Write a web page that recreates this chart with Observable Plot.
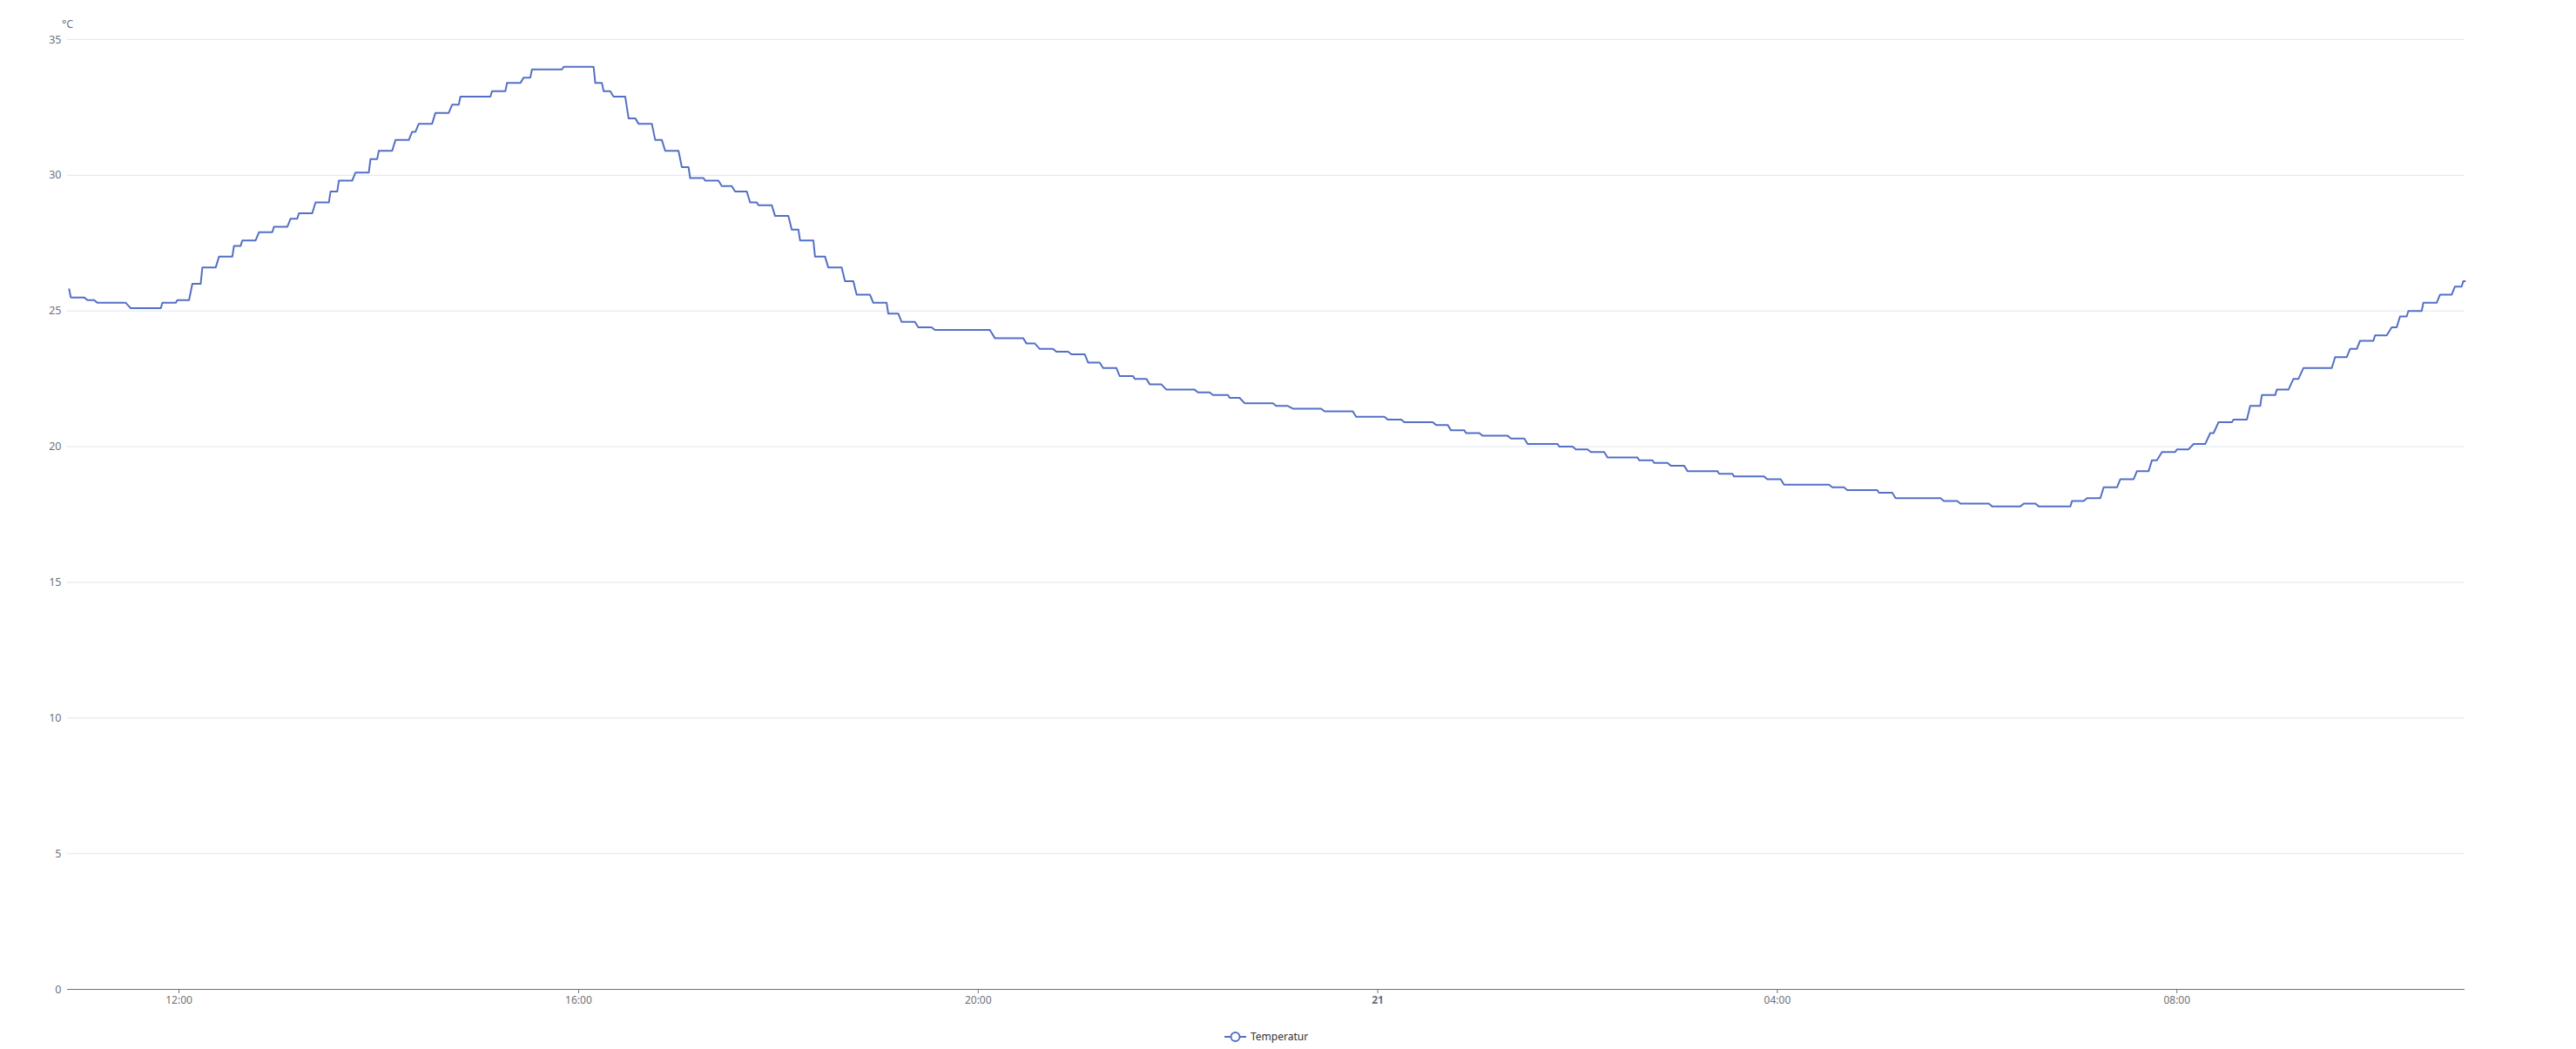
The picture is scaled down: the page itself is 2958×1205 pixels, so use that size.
<!DOCTYPE html>
<html>
<head>
<meta charset="utf-8">
<script src="https://cdn.jsdelivr.net/npm/d3@7"></script>
<script src="https://cdn.jsdelivr.net/npm/@observablehq/plot@0.6"></script>
<style>
  html, body { margin: 0; padding: 0; background: #fff; }
  #wrap { position: relative; width: 2958px; height: 1205px; font-family: "Noto Sans", sans-serif; }
  #legend { position: absolute; left: 1406px; top: 1182px; display: flex; align-items: center; font-size: 12px; color: #333; }
  #legend svg { margin-right: 5px; }
</style>
</head>
<body>
<div id="wrap">
  <div id="chart"></div>
  <div id="legend">
    <svg width="25" height="14"><line x1="0" x2="25" y1="7" y2="7" stroke="#5470c6" stroke-width="2"/><circle cx="12.5" cy="7" r="5" fill="#fff" stroke="#5470c6" stroke-width="2"/></svg>
    <span id="legendLabel"></span>
  </div>
</div>
<script>
// Series name and units
const seriesName = "Temperatur";
const unitLabel = "°C";

// Axis extents and ticks
const timeRange = ["20 10:53", "21 10:53"];
const yTicks = [0, 5, 10, 15, 20, 25, 30, 35];

// Plateaus of the stepped temperature reading: start time, end time ("day HH:MM"), value (°C)
const starts = [
  "20 10:54","20 10:55","20 11:05","20 11:11","20 11:31","20 11:50","20 11:59","20 12:08","20 12:14","20 12:24",
  "20 12:33","20 12:38","20 12:48","20 12:57","20 13:07","20 13:12","20 13:22","20 13:31","20 13:36","20 13:46",
  "20 13:55","20 14:00","20 14:10","20 14:20","20 14:24","20 14:34","20 14:44","20 14:49","20 15:08","20 15:17",
  "20 15:27","20 15:32","20 15:51","20 16:10","20 16:15","20 16:21","20 16:30","20 16:36","20 16:46","20 16:52",
  "20 17:02","20 17:07","20 17:16","20 17:26","20 17:34","20 17:43","20 17:48","20 17:58","20 18:08","20 18:13",
  "20 18:22","20 18:30","20 18:40","20 18:47","20 18:57","20 19:06","20 19:14","20 19:24","20 19:34","20 20:10",
  "20 20:29","20 20:37","20 20:47","20 20:56","20 21:06","20 21:15","20 21:25","20 21:34","20 21:43","20 21:53",
  "20 22:12","20 22:21","20 22:31","20 22:40","20 22:59","20 23:09","20 23:28","20 23:47","21 00:06","21 00:16",
  "21 00:35","21 00:44","21 00:53","21 01:03","21 01:20","21 01:30","21 01:49","21 01:59","21 02:08","21 02:18",
  "21 02:37","21 02:46","21 02:56","21 03:06","21 03:25","21 03:34","21 03:54","21 04:04","21 04:33","21 04:42",
  "21 05:01","21 05:11","21 05:40","21 05:50","21 06:09","21 06:28","21 06:37","21 06:57","21 07:06","21 07:16",
  "21 07:26","21 07:36","21 07:45","21 07:51","21 08:00","21 08:10","21 08:20","21 08:25","21 08:34","21 08:44",
  "21 08:51","21 09:00","21 09:10","21 09:16","21 09:35","21 09:44","21 09:50","21 09:59","21 10:09","21 10:14",
  "21 10:19","21 10:28","21 10:38","21 10:47","21 10:52"
];
const ends = [
  "20 10:54","20 11:03","20 11:09","20 11:28","20 11:49","20 11:58","20 12:06","20 12:13","20 12:22","20 12:32",
  "20 12:37","20 12:46","20 12:56","20 13:05","20 13:11","20 13:20","20 13:30","20 13:35","20 13:44","20 13:54",
  "20 13:59","20 14:08","20 14:18","20 14:22","20 14:32","20 14:42","20 14:48","20 15:07","20 15:16","20 15:25",
  "20 15:31","20 15:50","20 16:09","20 16:14","20 16:19","20 16:28","20 16:34","20 16:44","20 16:50","20 17:00",
  "20 17:06","20 17:15","20 17:24","20 17:32","20 17:41","20 17:47","20 17:56","20 18:06","20 18:12","20 18:21",
  "20 18:28","20 18:38","20 18:45","20 18:55","20 19:05","20 19:12","20 19:22","20 19:32","20 20:07","20 20:27",
  "20 20:34","20 20:45","20 20:54","20 21:04","20 21:13","20 21:23","20 21:33","20 21:41","20 21:50","20 22:10",
  "20 22:19","20 22:30","20 22:37","20 22:57","20 23:06","20 23:26","20 23:45","21 00:04","21 00:14","21 00:33",
  "21 00:42","21 00:52","21 01:01","21 01:18","21 01:28","21 01:48","21 01:57","21 02:06","21 02:16","21 02:36",
  "21 02:45","21 02:54","21 03:04","21 03:24","21 03:33","21 03:52","21 04:02","21 04:31","21 04:40","21 05:00",
  "21 05:09","21 05:38","21 05:48","21 06:07","21 06:26","21 06:35","21 06:56","21 07:04","21 07:14","21 07:24",
  "21 07:34","21 07:43","21 07:48","21 07:59","21 08:07","21 08:17","21 08:22","21 08:33","21 08:42","21 08:50",
  "21 08:59","21 09:07","21 09:13","21 09:33","21 09:42","21 09:48","21 09:58","21 10:06","21 10:12","21 10:18",
  "21 10:27","21 10:36","21 10:45","21 10:51","21 10:53"
];
const temps = [
  25.8,25.5,25.4,25.3,25.1,25.3,25.4,26.0,26.6,27.0,
  27.4,27.6,27.9,28.1,28.4,28.6,29.0,29.4,29.8,30.1,
  30.6,30.9,31.3,31.6,31.9,32.3,32.6,32.9,33.1,33.4,
  33.6,33.9,34.0,33.4,33.1,32.9,32.1,31.9,31.3,30.9,
  30.3,29.9,29.8,29.6,29.4,29.0,28.9,28.5,28.0,27.6,
  27.0,26.6,26.1,25.6,25.3,24.9,24.6,24.4,24.3,24.0,
  23.8,23.6,23.5,23.4,23.1,22.9,22.6,22.5,22.3,22.1,
  22.0,21.9,21.8,21.6,21.5,21.4,21.3,21.1,21.0,20.9,
  20.8,20.6,20.5,20.4,20.3,20.1,20.0,19.9,19.8,19.6,
  19.5,19.4,19.3,19.1,19.0,18.9,18.8,18.6,18.5,18.4,
  18.3,18.1,18.0,17.9,17.8,17.9,17.8,18.0,18.1,18.5,
  18.8,19.1,19.5,19.8,19.9,20.1,20.5,20.9,21.0,21.5,
  21.9,22.1,22.5,22.9,23.3,23.6,23.9,24.1,24.4,24.8,
  25.0,25.3,25.6,25.9,26.1
];

const parse = d3.utcParse("%d %H:%M");
const points = [];
temps.forEach((v, i) => {
  const a = parse(starts[i]), b = parse(ends[i]);
  points.push({t: a, v});
  if (+b !== +a) points.push({t: b, v});
});

const hm = d3.utcFormat("%H:%M");
const fmt = d => d.getUTCHours() === 0 && d.getUTCMinutes() === 0 ? String(d.getUTCDate()) : hm(d);

const chart = Plot.plot({
  width: 2958,
  height: 1170,
  marginLeft: 77,
  marginRight: 128,
  marginTop: 45,
  marginBottom: 34,
  style: {fontFamily: "'Noto Sans', sans-serif", fontSize: "12px", color: "#6e7079", background: "#fff", overflow: "visible"},
  x: {type: "utc", domain: timeRange.map(parse)},
  y: {domain: [0, 35]},
  marks: [
    Plot.ruleY(yTicks.filter(d => d > 0), {stroke: "#E0E6F1", strokeWidth: 1}),
    Plot.ruleY([0], {stroke: "#6E7079", strokeWidth: 1}),
    Plot.axisY({ticks: yTicks, tickSize: 0, tickPadding: 7, label: null, fontSize: 12.5}),
    Plot.axisX({ticks: d3.utcHour.every(4), tickSize: 5, tickPadding: 3, tickFormat: fmt, label: null, stroke: "#6E7079"}),
    Plot.line(points, {x: "t", y: "v", stroke: "#5470c6", strokeWidth: 2}),
    Plot.text([unitLabel], {text: d => d, frameAnchor: "top-left", dy: -22, textAnchor: "middle", fill: "#6e7079", fontSize: 12.5})
  ]
});

chart.querySelectorAll('[aria-label="x-axis tick label"] text').forEach(t => {
  if (!t.textContent.includes(":")) t.setAttribute("font-weight", "bold");
});

document.getElementById("chart").appendChild(chart);
document.getElementById("legendLabel").textContent = seriesName;
</script>
</body>
</html>
